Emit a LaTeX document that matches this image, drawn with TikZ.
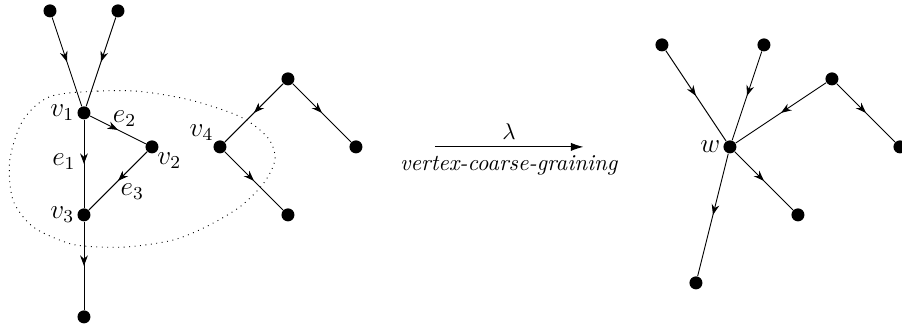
\documentclass[tikz,border=0pt]{standalone}
\usetikzlibrary{decorations.markings,arrows.meta}
\tikzset{
  dot/.style={circle,fill,inner sep=0pt,minimum size=5.7pt},
  midarrow/.style={postaction={decorate},decoration={markings,
      mark=at position 0.5 with {\arrow{Stealth[length=4.6pt,width=3.4pt,inset=1.5pt]}}}},
  lab/.style={font=\large},
  vlab/.style={lab,label distance=0pt,inner sep=1pt},
}
\begin{document}
\begin{tikzpicture}[x=0.524cm,y=0.524cm]
\useasboundingbox (-2.47,3.32) rectangle (24.06,-6.41);
% left graph
\node[dot,label={[vlab]left:$v_1$}] (v1) at (0,0) {};
\node[dot] (a1) at (-1,3) {};
\node[dot] (a2) at (1,3) {};
\node[dot,label={[lab,anchor=north west,inner sep=0pt]-45:$v_2$}] (v2) at (2,-1) {};
\node[dot,label={[vlab]left:$v_3$}] (v3) at (0,-3) {};
\node[dot] (b) at (0,-6) {};
\node[dot,label={[lab,anchor=south east,inner sep=0.5pt]135:$v_4$}] (v4) at (4,-1) {};
\node[dot] (t) at (6,1) {};
\node[dot] (r) at (8,-1) {};
\node[dot] (s) at (6,-3) {};
\draw[midarrow] (a1) -- (v1);
\draw[midarrow] (a2) -- (v1);
\draw[midarrow] (v1) -- node[lab,pos=0.47,left,inner sep=3.5pt] {$e_1$} (v3);
\draw[midarrow] (v1) -- node[lab,pos=0.4,anchor=south west,inner sep=0pt] {$e_2$} (v2);
\draw[midarrow] (v2) -- node[lab,pos=0.5,anchor=north west,inner sep=1pt] {$e_3$} (v3);
\draw[midarrow] (v3) -- (b);
\draw[midarrow] (t) -- (v4);
\draw[midarrow] (t) -- (r);
\draw[midarrow] (v4) -- (s);
\draw[dotted] plot[smooth cycle] coordinates {(-1.0,0.48) (0.4,0.64) (1.65,0.63) (3.12,0.38) (4.59,-0.11) (5.4,-0.72) (5.62,-1.35) (5.3,-2.05) (4.59,-2.76) (3.61,-3.34) (2.62,-3.74) (1.3,-3.94) (0.18,-3.93) (-0.5,-3.82) (-1.5,-3.35) (-2.09,-2.56) (-2.18,-1.38) (-1.79,-0.21)};
% arrow
\coordinate (A1) at (10.32,-1);
\coordinate (A2) at (14.69,-1);
\draw[-{Latex[length=5.5pt,width=3.6pt]}] (A1) -- node[above,inner sep=3pt] {$\lambda$} node[below,inner sep=3pt,yshift=-0.5pt] {\textit{vertex-coarse-graining}} (A2);
% right graph
\node[dot,label={[vlab]left:$w$}] (w) at (19,-1) {};
\node[dot] (wa) at (17,2) {};
\node[dot] (wb) at (20,2) {};
\node[dot] (wt) at (22,1) {};
\node[dot] (wr) at (24,-1) {};
\node[dot] (ws) at (21,-3) {};
\node[dot] (wl) at (18,-5) {};
\draw[midarrow] (wa) -- (w);
\draw[midarrow] (wb) -- (w);
\draw[midarrow] (wt) -- (w);
\draw[midarrow] (wt) -- (wr);
\draw[midarrow] (w) -- (ws);
\draw[midarrow] (w) -- (wl);
\end{tikzpicture}
\end{document}
